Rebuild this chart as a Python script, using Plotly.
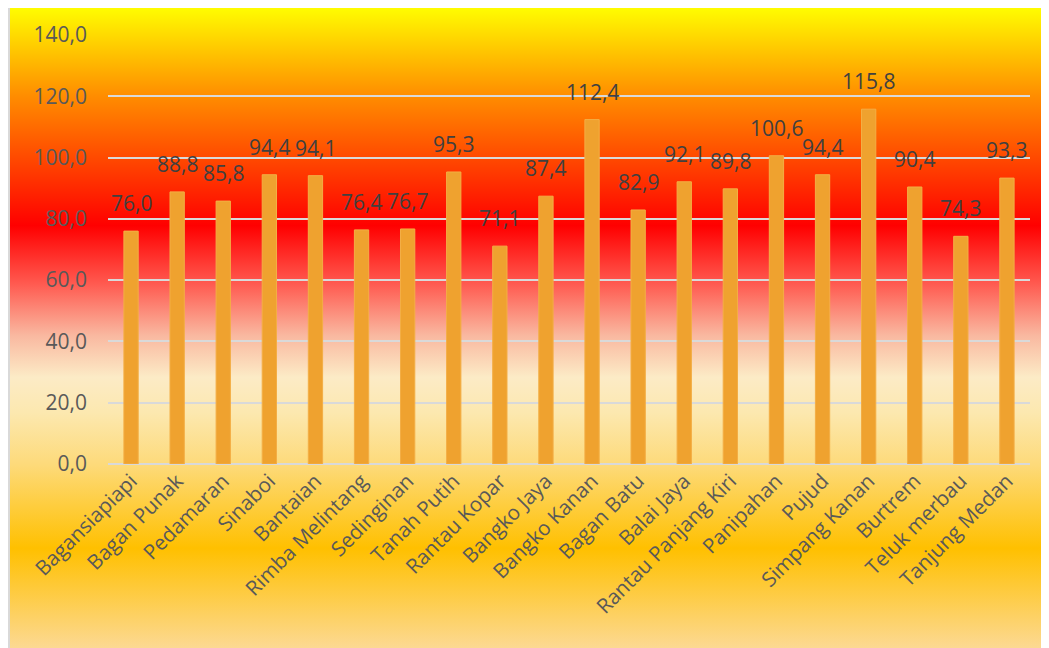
import base64
import plotly.graph_objects as go

# data
kecamatan = ["Bagansiapiapi", "Bagan Punak", "Pedamaran", "Sinaboi", "Bantaian",
             "Rimba Melintang", "Sedinginan", "Tanah Putih", "Rantau Kopar", "Bangko Jaya",
             "Bangko Kanan", "Bagan Batu", "Balai Jaya", "Rantau Panjang Kiri", "Panipahan",
             "Pujud", "Simpang Kanan", "Burtrem", "Teluk merbau", "Tanjung Medan"]
nilai = [76.0, 88.8, 85.8, 94.4, 94.1,
         76.4, 76.7, 95.3, 71.1, 87.4,
         112.4, 82.9, 92.1, 89.8, 100.6,
         94.4, 115.8, 90.4, 74.3, 93.3]
y_ticks = [0, 20, 40, 60, 80, 100, 120, 140]

# background gradient (svg as data uri)
stops = [(0.0, "#FFFF00"), (0.14, "#FF8C00"), (0.23, "#FF4D00"), (0.34, "#FF0000"),
         (0.43, "#FF5A50"), (0.51, "#F9B8A0"), (0.575, "#FCEBC6"), (0.63, "#FCE8AF"),
         (0.71, "#FDDA7A"), (0.84, "#FFC000"), (1.0, "#FCDA98")]
stop_xml = "".join(f'<stop offset="{o}" stop-color="{c}"/>' for o, c in stops)
svg = ('<svg xmlns="http://www.w3.org/2000/svg" width="100" height="100" preserveAspectRatio="none">'
       '<defs><linearGradient id="g" x1="0" y1="0" x2="0" y2="1">' + stop_xml +
       '</linearGradient></defs><rect width="100" height="100" fill="url(#g)"/></svg>')
bg_src = "data:image/svg+xml;base64," + base64.b64encode(svg.encode()).decode()

fig = go.Figure()
fig.add_trace(go.Bar(
    x=kecamatan, y=nilai,
    marker=dict(color="#EFA22F", line=dict(color="#F3AE45", width=1)),
    hoverinfo="x+y",
))

# data labels, sitting a bit above the bar ends
for k, v in zip(kecamatan, nilai):
    fig.add_annotation(x=k, y=v, text=f"{v:.1f}".replace(".", ","),
                       showarrow=False, yanchor="bottom", yshift=12,
                       font=dict(color="#404040", size=21))

# plot area (figure coords): x 100..1022, y 24..456
pw, ph = 922, 432
fig.add_layout_image(dict(
    source=bg_src, xref="paper", yref="paper",
    x=-100 / pw, y=(456 + 5) / ph,
    sizex=1100 / pw, sizey=650 / ph,
    xanchor="left", yanchor="top", sizing="stretch", layer="below",
))
fig.add_shape(type="line", xref="paper", yref="paper",
              x0=-99 / pw, x1=-99 / pw, y0=-300 / ph, y1=(456 + 5) / ph,
              line=dict(color="#D9D9D9", width=2), layer="below")

fig.update_layout(
    width=1049, height=648,
    margin=dict(l=100, r=27, t=24, b=192),
    paper_bgcolor="white", plot_bgcolor="rgba(0,0,0,0)",
    separators=",.",
    font=dict(family="Open Sans", color="#595959", size=20),
    bargap=0.69,
    showlegend=False,
    xaxis=dict(tickangle=-45, tickfont=dict(size=20.6, color="#595959"),
               showline=False, ticks="", showgrid=False),
    yaxis=dict(range=[0, 140], tickvals=y_ticks, tickformat=".1f",
               tickfont=dict(size=21, color="#595959"),
               showgrid=True, gridcolor="#D9D9D9", gridwidth=2,
               zeroline=True, zerolinecolor="#D9D9D9", zerolinewidth=2,
               showline=False, ticks="", ticklabelstandoff=20),
)

fig.write_html("out.html")
